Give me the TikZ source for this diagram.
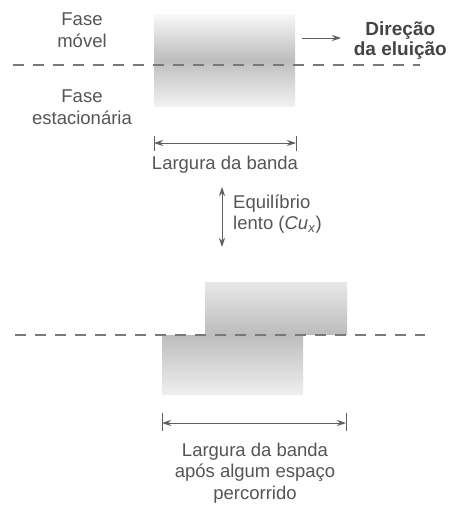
\documentclass[tikz,border=0pt]{standalone}
\usepackage{fontspec}
\setmainfont{Liberation Sans}
\usetikzlibrary{arrows.meta}
\definecolor{txt}{HTML}{555555}
\definecolor{ln}{HTML}{606060}
\definecolor{bandc}{HTML}{BDBDBD}
\begin{document}
\begin{tikzpicture}[x=1pt,y=-1pt,
  lbl/.style={text=txt,align=center,inner sep=0pt,font=\fontsize{18.5}{21.5}\selectfont},
  bold/.style={text=txt!80!black,align=center,inner sep=0pt,font=\fontsize{19}{20}\selectfont\bfseries},
  phase/.style={draw=ln!85,line width=1.8pt,dash pattern=on 11pt off 9pt},
  tip/.style={},
  arr/.style={draw=ln,line width=1pt,{Stealth[length=9pt,width=6pt]}-{Stealth[length=9pt,width=6pt]}},
  onearr/.style={draw=ln,line width=1pt,-{Stealth[length=9pt,width=6pt]}},
  bar/.style={draw=ln,line width=1pt}]
\useasboundingbox (0,0) rectangle (449,506);
\fill[white] (0,0) rectangle (449,506);

% top band
\shade[top color=bandc!10,bottom color=bandc!20,middle color=bandc] (154,14) rectangle (295,106);
% bottom bands
\shade[top color=bandc!35,bottom color=bandc] (205,282) rectangle (347,334);
\shade[top color=bandc,bottom color=bandc!25] (162,335) rectangle (303,394);

% phase lines
\coordinate (l1a) at (13,65);
\coordinate (l1b) at (420,65);
\draw[phase] (l1a) -- (l1b);
\coordinate (l2a) at (15,335);
\coordinate (l2b) at (425,335);
\draw[phase] (l2a) -- (l2b);

% labels top
\node[lbl] (movel) at (82,30) {Fase\\móvel};
\node[lbl] (estac) at (82,107) {Fase\\estacionária};
\node[bold,anchor=east] (direcao) at (447,41) {Direção\\da eluição};
\coordinate (d1) at (302,38);
\coordinate (d2) at (341,38);
\draw[onearr] (d1) -- (d2);

% band width top
\coordinate (w1) at (154,143);
\coordinate (w2) at (296,143);
\draw[bar] (154,136) -- (154,151);
\draw[bar] (296,136) -- (296,151);
\draw[arr] (w1) -- (w2);
\node[lbl] (larg1) at (225,165) {Largura da banda};

% equilibrium
\coordinate (e1) at (222,187);
\coordinate (e2) at (222,247);
\draw[arr] (e1) -- (e2);
\node[lbl,anchor=west,align=left] (equil) at (233,214) {Equilíbrio\\lento (\textit{Cu}\textsubscript{\textit{x}})};

% band width bottom
\coordinate (b1) at (162,423);
\coordinate (b2) at (346,423);
\draw[bar] (162,413) -- (162,431);
\draw[bar] (346,413) -- (346,431);
\draw[arr] (b1) -- (b2);
\node[lbl] (larg2) at (255,473) {Largura da banda\\após algum espaço\\percorrido};
\end{tikzpicture}
\end{document}
